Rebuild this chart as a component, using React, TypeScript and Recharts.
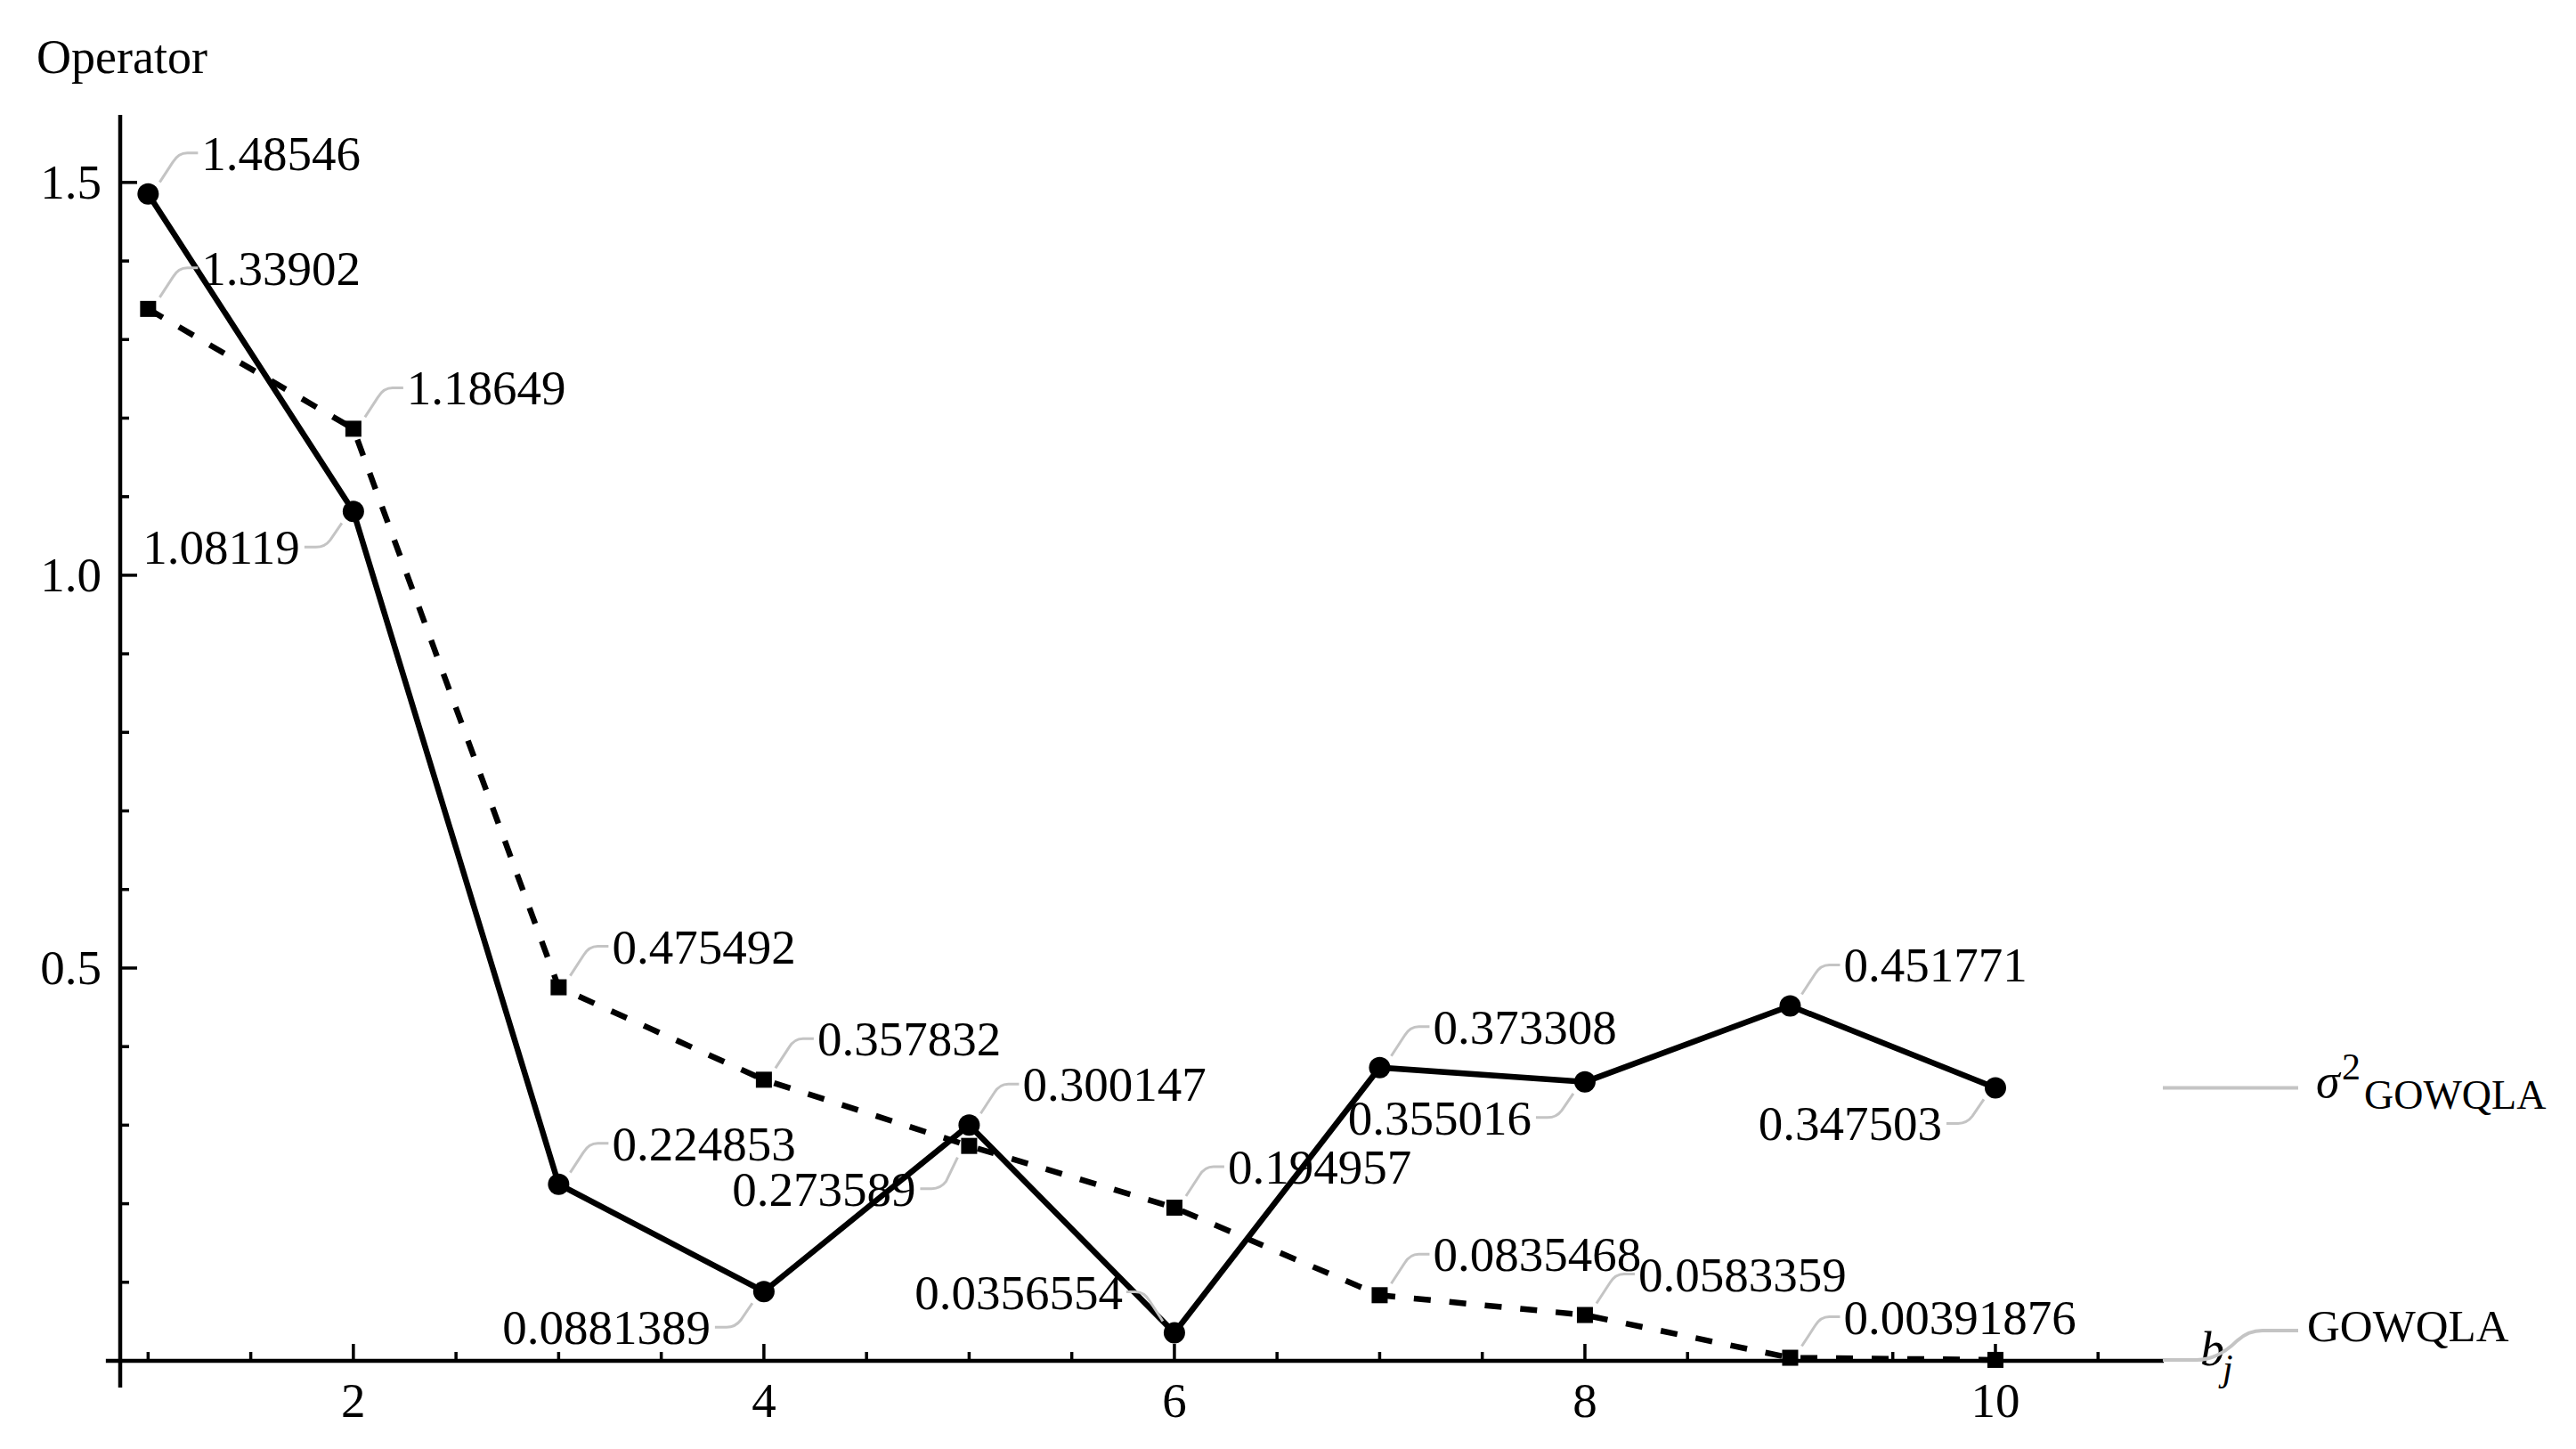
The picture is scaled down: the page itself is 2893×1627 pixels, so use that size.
import React from 'react';
import { LineChart, Line, XAxis, YAxis, ReferenceLine, LabelList } from 'recharts';

// ---------- data ----------
const bValues = [1, 2, 3, 4, 5, 6, 7, 8, 9, 10];
const sigma2GOWQLA = [1.48546, 1.08119, 0.224853, 0.0881389, 0.300147, 0.0356554, 0.373308, 0.355016, 0.451771, 0.347503];
const GOWQLA = [1.33902, 1.18649, 0.475492, 0.357832, 0.273589, 0.194957, 0.0835468, 0.0583359, 0.00391876, 0.0012];
const sigma2Labels = ['1.48546', '1.08119', '0.224853', '0.0881389', '0.300147', '0.0356554', '0.373308', '0.355016', '0.451771', '0.347503'];
const gowqlaLabels = ['1.33902', '1.18649', '0.475492', '0.357832', '0.273589', '0.194957', '0.0835468', '0.0583359', '0.00391876', ''];
const xMajorTicks = [2, 4, 6, 8, 10];
const xAllTicks = [1, 1.5, 2, 2.5, 3, 3.5, 4, 4.5, 5, 5.5, 6, 6.5, 7, 7.5, 8, 8.5, 9, 9.5, 10, 10.5];
const yMajorTicks = [0.5, 1.0, 1.5];
const yAllTicks = [0.1, 0.2, 0.3, 0.4, 0.5, 0.6, 0.7, 0.8, 0.9, 1.0, 1.1, 1.2, 1.3, 1.4, 1.5];
const xDomain: [number, number] = [0.864, 10.82];
const yDomain: [number, number] = [0, 1.586];

// label placement (style, not data)
const sigma2Placement = ['ur', 'll', 'ur', 'll', 'ur', 'ul', 'ur', 'll', 'ur', 'll'];
const gowqlaPlacement = ['ur', 'ur', 'ur', 'ur', 'll', 'ur', 'ur', 'ur', 'ur', 'none'];

const data = bValues.map((b, i) => ({ b, s: sigma2GOWQLA[i], g: GOWQLA[i] }));

const FONT = '"Liberation Serif", "Times New Roman", serif';
const FS = 55;
const LEADER = '#c4c4c4';

function Callout({ px, py, text, place, index }: { px: number; py: number; text: string; place: string; index: number }) {
  if (place === 'none' || !text) return null;
  let path = '';
  let tx = 0;
  let ty = 0;
  let anchor: 'start' | 'end' = 'start';
  if (place === 'ur') {
    path = `M ${px + 13} ${py - 13} L ${px + 28} ${py - 36} Q ${px + 34} ${py - 46} ${px + 44} ${py - 46} L ${px + 56} ${py - 46}`;
    tx = px + 60;
    ty = py - 46 + 19;
  } else if (place === 'll') {
    const dy = index === 4 ? 48 : 40;
    path = `M ${px - 13} ${py + 13} L ${px - 26} ${py + dy - 8} Q ${px - 32} ${py + dy} ${px - 42} ${py + dy} L ${px - 55} ${py + dy}`;
    tx = px - 60;
    ty = py + dy + 19;
    anchor = 'end';
  } else {
    path = `M ${px - 13} ${py - 13} L ${px - 28} ${py - 36} Q ${px - 34} ${py - 46} ${px - 44} ${py - 46} L ${px - 54} ${py - 46}`;
    tx = px - 58;
    ty = py - 46 + 19;
    anchor = 'end';
  }
  return (
    <g>
      <path d={path} fill="none" stroke={LEADER} strokeWidth={3} />
      <text x={tx} y={ty} fontFamily={FONT} fontSize={FS} textAnchor={anchor} fill="#000">
        {text}
      </text>
    </g>
  );
}

function getXY(props: any) {
  const px = props.x ?? props.viewBox?.x;
  const py = props.y ?? props.viewBox?.y;
  return { px: Number(px), py: Number(py) };
}

const sigmaLabel = (props: any) => {
  const { px, py } = getXY(props);
  const i = props.index;
  const last = i === bValues.length - 1;
  return (
    <g>
      <Callout px={px} py={py} text={sigma2Labels[i]} place={sigma2Placement[i]} index={-1} />
      {last && (
        <g>
          <line x1={px + 188} y1={py} x2={px + 340} y2={py} stroke={LEADER} strokeWidth={4} />
          <text x={px + 360} y={py + 11} fontFamily={FONT} fontStyle="italic" fontSize={54} fill="#000">σ</text>
          <text x={px + 389} y={py - 9} fontFamily={FONT} fontSize={42} fill="#000">2</text>
          <text x={px + 414} y={py + 24} fontFamily={FONT} fontSize={46} fill="#000">GOWQLA</text>
        </g>
      )}
    </g>
  );
};

const gowqlaLabel = (props: any) => {
  const { px, py } = getXY(props);
  const i = props.index;
  const last = i === bValues.length - 1;
  return (
    <g>
      <Callout px={px} py={py} text={gowqlaLabels[i]} place={gowqlaPlacement[i]} index={i} />
      {last && (
        <g>
          <path
            d={`M ${px + 188} ${py} L ${px + 226} ${py} Q ${px + 250} ${py} ${px + 272} ${py - 22} Q ${px + 284} ${py - 33} ${px + 300} ${py - 33} L ${px + 340} ${py - 33}`}
            fill="none"
            stroke={LEADER}
            strokeWidth={4}
          />
          <text x={px + 350} y={py - 21} fontFamily={FONT} fontSize={51} fill="#000">GOWQLA</text>
        </g>
      )}
    </g>
  );
};

const XTick = (props: any) => {
  const { x, y, payload } = props;
  const v = payload.value;
  const major = xMajorTicks.includes(v);
  return (
    <g>
      <line x1={x} y1={y} x2={x} y2={y - (major ? 19 : 10)} stroke="#000" strokeWidth={3.5} />
      {major && (
        <text x={x} y={y + 63} textAnchor="middle" fontFamily={FONT} fontSize={FS} fill="#000">
          {String(v)}
        </text>
      )}
    </g>
  );
};

const YTick = (props: any) => {
  const { x, y, payload } = props;
  const v = payload.value;
  const major = yMajorTicks.some((m) => Math.abs(m - v) < 1e-9);
  return (
    <g>
      <line x1={x} y1={y} x2={x + (major ? 19 : 10)} y2={y} stroke="#000" strokeWidth={3.5} />
      {major && (
        <text x={x - 21} y={y + 18} textAnchor="end" fontFamily={FONT} fontSize={FS} fill="#000">
          {v.toFixed(1)}
        </text>
      )}
    </g>
  );
};

const OperatorLabel = (props: any) => {
  const vb = props.viewBox || {};
  return (
    <text x={vb.x + vb.width - 94} y={vb.y - 47} fontFamily={FONT} fontSize={54} fill="#000">
      Operator
    </text>
  );
};

const BjLabel = (props: any) => {
  const vb = props.viewBox || {};
  const right = vb.x + vb.width;
  return (
    <g>
      <text x={right + 41} y={vb.y + 5} fontFamily={FONT} fontStyle="italic" fontSize={54} fill="#000">b</text>
      <text x={right + 66} y={vb.y + 22} fontFamily={FONT} fontStyle="italic" fontSize={42} fill="#000">j</text>
    </g>
  );
};

const SquareDot = (props: any) => {
  const { cx, cy, index } = props;
  if (cx == null || cy == null) return <g key={`sq-${index}`} />;
  return <rect key={`sq-${index}`} x={cx - 9} y={cy - 9} width={18} height={18} fill="#000" />;
};

export default function App() {
  return (
    <div style={{ position: 'absolute', left: 0, top: 0, width: 2893, height: 1627, background: '#fff' }}>
      <LineChart
        width={2893}
        height={1627}
        data={data}
        margin={{ top: 129, left: 134, right: 463, bottom: 98 }}
      >
        <XAxis
          type="number"
          dataKey="b"
          domain={xDomain}
          ticks={xAllTicks}
          interval={0}
          axisLine={false}
          tickLine={false}
          tickSize={0}
          tickMargin={0}
          height={1}
          tick={(p: any) => <XTick {...p} />}
          label={{ content: (p: any) => <BjLabel {...p} /> }}
        />
        <YAxis
          type="number"
          domain={yDomain}
          ticks={yAllTicks}
          interval={0}
          axisLine={false}
          tickLine={false}
          tickSize={0}
          tickMargin={0}
          width={1}
          tick={(p: any) => <YTick {...p} />}
          label={{ content: (p: any) => <OperatorLabel {...p} /> }}
        />
        <ReferenceLine
          segment={[{ x: 0.794, y: 0 }, { x: xDomain[1], y: 0 }]}
          stroke="#000"
          strokeWidth={4.5}
          ifOverflow="visible"
        />
        <ReferenceLine
          segment={[{ x: xDomain[0], y: -0.034 }, { x: xDomain[0], y: yDomain[1] }]}
          stroke="#000"
          strokeWidth={4.5}
          ifOverflow="visible"
        />
        <Line
          type="linear"
          dataKey="g"
          stroke="#000"
          strokeWidth={6.5}
          strokeDasharray="19 21"
          dot={SquareDot}
          activeDot={false}
          isAnimationActive={false}
        >
          <LabelList dataKey="g" content={gowqlaLabel} />
        </Line>
        <Line
          type="linear"
          dataKey="s"
          stroke="#000"
          strokeWidth={6.5}
          dot={{ r: 12, fill: '#000', stroke: 'none' }}
          activeDot={false}
          isAnimationActive={false}
        >
          <LabelList dataKey="s" content={sigmaLabel} />
        </Line>
      </LineChart>
    </div>
  );
}
